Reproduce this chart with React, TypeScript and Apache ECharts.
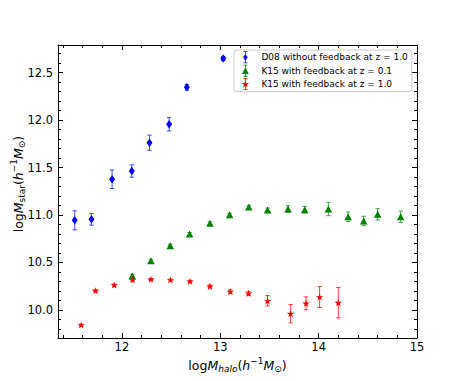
import React, { useEffect, useRef } from "react";
import * as echarts from "echarts";

// ---- data ----
const d08X = [11.52, 11.69, 11.9, 12.1, 12.28, 12.48, 12.66, 13.03];
const d08Y = [10.944, 10.955, 11.376, 11.463, 11.761, 11.955, 12.344, 12.647];
const d08Err = [0.1, 0.062, 0.097, 0.065, 0.08, 0.07, 0.03, 0.02];

const k15lowX = [12.105, 12.295, 12.491, 12.688, 12.895, 13.095, 13.29, 13.481, 13.689, 13.858, 14.099, 14.3, 14.458, 14.6, 14.834];
const k15lowY = [10.36, 10.519, 10.677, 10.8, 10.912, 11.003, 11.084, 11.053, 11.063, 11.056, 11.063, 10.982, 10.937, 11.007, 10.982];
const k15lowErr = [0.015, 0.015, 0.015, 0.015, 0.015, 0.015, 0.015, 0.02, 0.035, 0.035, 0.07, 0.05, 0.05, 0.06, 0.06];

const k15highX = [11.586, 11.731, 11.922, 12.108, 12.295, 12.494, 12.692, 12.895, 13.102, 13.288, 13.481, 13.715, 13.872, 14.01, 14.2];
const k15highY = [9.842, 10.203, 10.263, 10.316, 10.323, 10.316, 10.302, 10.249, 10.193, 10.175, 10.097, 9.961, 10.07, 10.137, 10.077];
const k15highErr = [0.01, 0.01, 0.01, 0.01, 0.01, 0.01, 0.01, 0.015, 0.02, 0.02, 0.055, 0.097, 0.068, 0.11, 0.16];

const seriesNames = [
  "D08 without feedback at z = 1.0",
  "K15 with feedback at z = 0.1",
  "K15 with feedback at z = 1.0",
];

const xMajorTicks = [12, 13, 14, 15];
const xMinorTicks = [11.4, 11.6, 11.8, 12.2, 12.4, 12.6, 12.8, 13.2, 13.4, 13.6, 13.8, 14.2, 14.4, 14.6, 14.8];
const yMajorTicks = [10.0, 10.5, 11.0, 11.5, 12.0, 12.5];
const yMinorTicks = [9.8, 9.9, 10.1, 10.2, 10.3, 10.4, 10.6, 10.7, 10.8, 10.9, 11.1, 11.2, 11.3, 11.4, 11.6, 11.7, 11.8, 11.9, 12.1, 12.2, 12.3, 12.4, 12.6, 12.7];

const X_MIN = 11.35, X_MAX = 15;
const Y_MIN = 9.705, Y_MAX = 12.79;

const FONT = "DejaVu Sans";

function starPath(cx: number, cy: number, R: number, r: number) {
  let d = "";
  for (let i = 0; i < 10; i++) {
    const a = -Math.PI / 2 + (i * Math.PI) / 5;
    const rad = i % 2 === 0 ? R : r;
    const px = (cx + rad * Math.cos(a)).toFixed(3);
    const py = (cy + rad * Math.sin(a)).toFixed(3);
    d += (i === 0 ? "M" : "L") + px + "," + py;
  }
  return d + "Z";
}

const errShape = "M3,0H7V0.8H3Z M4.6,0H5.4V12H4.6Z M3,11.2H7V12H3Z ";
const iconDiamond = "path://" + errShape + "M5,2.6L7.3,6L5,9.4L2.7,6Z";
const iconTriangle = "path://" + errShape + "M5,2.6L8.4,9.4L1.6,9.4Z";
const iconStar = "path://" + errShape + starPath(5, 6.3, 3.9, 1.5);
const starSymbol = "path://" + starPath(0, 0, 10, 3.82);

const COLORS = ["#0000ff", "#008000", "#ff0000"];
const ERR_COLORS = ["rgba(0,0,255,0.7)", "rgba(0,128,0,0.7)", "rgba(255,0,0,0.75)"];

function pts(xs: number[], ys: number[]) {
  return xs.map((x, i) => [x, ys[i]]);
}
function errs(xs: number[], ys: number[], es: number[]) {
  return xs.map((x, i) => [x, ys[i] - es[i], ys[i] + es[i]]);
}

function errorSeries(name: string, data: number[][], color: string) {
  return {
    type: "custom",
    name,
    xAxisIndex: 0,
    yAxisIndex: 0,
    z: 1,
    silent: true,
    data,
    renderItem: (params: any, api: any) => {
      const x = api.value(0);
      const lo = api.coord([x, api.value(1)]);
      const hi = api.coord([x, api.value(2)]);
      const cw = 2.2;
      const style = { stroke: color, lineWidth: 1 };
      return {
        type: "group",
        children: [
          { type: "line", shape: { x1: lo[0], y1: lo[1], x2: hi[0], y2: hi[1] }, style },
          { type: "line", shape: { x1: lo[0] - cw, y1: lo[1], x2: lo[0] + cw, y2: lo[1] }, style },
          { type: "line", shape: { x1: hi[0] - cw, y1: hi[1], x2: hi[0] + cw, y2: hi[1] }, style },
        ],
      };
    },
  };
}

function xAxisDef(position: string, ticks: number[], len: number, labels: boolean, line: boolean) {
  return {
    type: "value",
    position,
    min: X_MIN,
    max: X_MAX,
    offset: 0,
    splitLine: { show: false },
    axisLine: { show: line, onZero: false, lineStyle: { color: "#000", width: 1 } },
    axisTick: { show: true, inside: true, length: len, customValues: ticks, lineStyle: { color: "#000", width: 1 } },
    axisLabel: {
      show: labels,
      customValues: ticks,
      margin: 3,
      fontSize: 11.5,
      fontFamily: FONT,
      color: "#000",
      formatter: (v: number) => String(Math.round(v)),
    },
  };
}

function yAxisDef(position: string, ticks: number[], len: number, labels: boolean, line: boolean) {
  return {
    type: "value",
    position,
    min: Y_MIN,
    max: Y_MAX,
    offset: 0,
    splitLine: { show: false },
    axisLine: { show: line, onZero: false, lineStyle: { color: "#000", width: 1 } },
    axisTick: { show: true, inside: true, length: len, customValues: ticks, lineStyle: { color: "#000", width: 1 } },
    axisLabel: {
      show: labels,
      customValues: ticks,
      margin: 5,
      fontSize: 11.5,
      fontFamily: FONT,
      color: "#000",
      formatter: (v: number) => v.toFixed(1),
    },
  };
}

const subStyle = { fontSize: 9, fontFamily: FONT, lineHeight: 9, verticalAlign: "bottom", fill: "#000" };
const supStyle = { fontSize: 9, fontFamily: FONT, lineHeight: 9, verticalAlign: "top", fill: "#000" };
const normStyle = { fontSize: 12.5, fontFamily: FONT, lineHeight: 17, verticalAlign: "middle", fill: "#000" };
const italStyle = { ...normStyle, fontStyle: "italic" };
const subItal = { ...subStyle, fontStyle: "italic" };

export default function App() {
  const ref = useRef<HTMLDivElement>(null);
  useEffect(() => {
    if (!ref.current) return;
    const chart = echarts.init(ref.current, undefined, { renderer: "svg" });
    const option: any = {
      animation: false,
      backgroundColor: "#fff",
      grid: { left: 58, top: 45, right: 46, bottom: 43, containLabel: false },
      xAxis: [
        xAxisDef("bottom", xMajorTicks, 5, true, true),
        xAxisDef("bottom", xMinorTicks, 3, false, false),
        xAxisDef("top", xMajorTicks, 5, false, true),
        xAxisDef("top", xMinorTicks, 3, false, false),
      ],
      yAxis: [
        yAxisDef("left", yMajorTicks, 5, true, true),
        yAxisDef("left", yMinorTicks, 3, false, false),
        yAxisDef("right", yMajorTicks, 5, false, true),
        yAxisDef("right", yMinorTicks, 3, false, false),
      ],
      legend: {
        orient: "vertical",
        left: 234,
        top: 50,
        padding: [1.3, 4, 1.7, 7.7],
        itemWidth: 10,
        itemHeight: 12,
        itemGap: 1.35,
        borderColor: "#cccccc",
        borderWidth: 1,
        borderRadius: 3,
        backgroundColor: "rgba(255,255,255,0.8)",
        selectedMode: false,
        textStyle: { fontSize: 9, fontFamily: FONT, color: "#000", padding: [0, 0, 0, 6] },
        data: [
          { name: seriesNames[0], icon: iconDiamond },
          { name: seriesNames[1], icon: iconTriangle },
          { name: seriesNames[2], icon: iconStar },
        ],
      },
      graphic: [
        {
          type: "text",
          x: 237.5,
          y: 365,
          silent: true,
          style: {
            text: "{n|log}{i|M}{si|halo}{n|(}{i|h}{sup|−1}{i|M}{sub|⊙}{n|)}",
            align: "center",
            verticalAlign: "middle",
            rich: { n: normStyle, i: italStyle, si: subItal, sub: subStyle, sup: supStyle },
          },
        },
        {
          type: "text",
          x: 18,
          y: 184,
          rotation: Math.PI / 2,
          silent: true,
          style: {
            text: "{n|log}{i|M}{sub|star}{n|(}{i|h}{sup|−1}{i|M}{sub|⊙}{n|)}",
            align: "center",
            verticalAlign: "middle",
            rich: { n: normStyle, i: italStyle, sub: subStyle, sup: supStyle },
          },
        },
      ],
      series: [
        errorSeries("err0", errs(d08X, d08Y, d08Err), ERR_COLORS[0]),
        errorSeries("err1", errs(k15lowX, k15lowY, k15lowErr), ERR_COLORS[1]),
        errorSeries("err2", errs(k15highX, k15highY, k15highErr), ERR_COLORS[2]),
        {
          type: "scatter",
          name: seriesNames[0],
          z: 3,
          data: pts(d08X, d08Y),
          symbol: "diamond",
          symbolSize: [6, 8.5],
          itemStyle: { color: COLORS[0], opacity: 1 },
        },
        {
          type: "scatter",
          name: seriesNames[1],
          z: 3,
          data: pts(k15lowX, k15lowY),
          symbol: "triangle",
          symbolSize: [7.5, 7],
          itemStyle: { color: COLORS[1], opacity: 1 },
        },
        {
          type: "scatter",
          name: seriesNames[2],
          z: 3,
          data: pts(k15highX, k15highY),
          symbol: starSymbol,
          symbolKeepAspect: true,
          symbolSize: 7.5,
          itemStyle: { color: COLORS[2], opacity: 1 },
        },
      ],
    };
    chart.setOption(option);
    return () => chart.dispose();
  }, []);
  return (
    <div
      ref={ref}
      style={{ position: "absolute", left: 0, top: 0, width: 463, height: 381 }}
    />
  );
}
